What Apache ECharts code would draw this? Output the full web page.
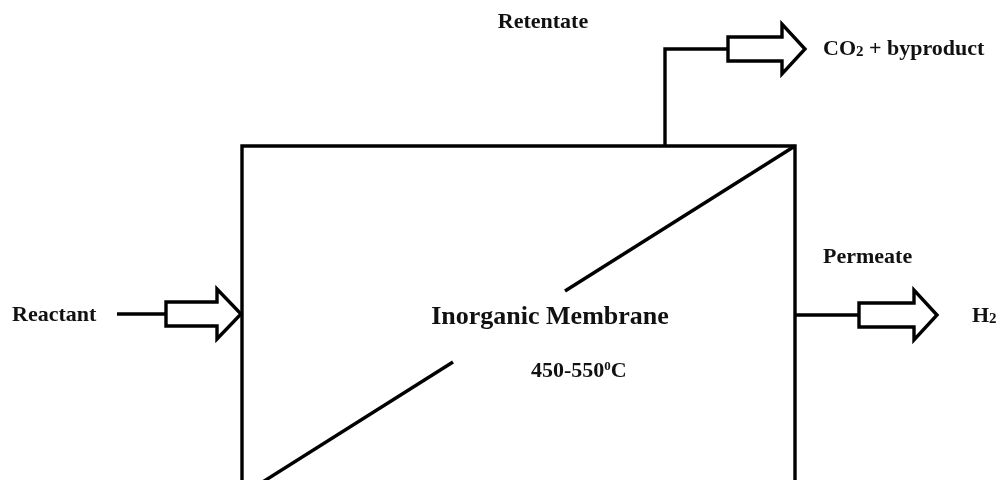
<!DOCTYPE html>
<html>
<head>
<meta charset="utf-8">
<script src="https://cdn.jsdelivr.net/npm/echarts@6/dist/echarts.min.js"></script>
<style>
  html, body { margin: 0; padding: 0; background: #ffffff; }
  #chart { width: 997px; height: 480px; }
</style>
</head>
<body>
<div id="chart"></div>
<script>
// ---- Diagram data (in diagram units of the hidden x/y axes) ----
const xExtent = [0, 997];
const yExtent = [0, 480];

// Reactor box outline (its bottom edge lies below the visible area)
const boxOutline = [[242, 505], [242, 146], [795, 146], [795, 505]];
// Membrane diagonal, broken around the label
const membraneUpper = [[795, 146], [565, 291]];
const membraneLower = [[453, 362], [242, 495]];
// Connecting pipes
const retentatePipe = [[665, 146], [665, 49], [728, 49]];
const reactantPipe = [[117, 314], [166, 314]];
const permeatePipe = [[795, 315], [859, 315]];
// Block arrows: [tailX, headBaseX, tipX, centreY]
const blockArrows = [
  [728, 782, 805, 49],
  [166, 217, 241, 314],
  [859, 914, 937, 315]
];
// Labels: [x, y, text, align]
const labels = [
  [543, 22, 'Retentate', 'center'],
  [823, 49, 'CO{sub|2} + byproduct', 'left'],
  [12, 315, 'Reactant', 'left'],
  [823, 257, 'Permeate', 'left'],
  [972, 316, 'H{sub|2}', 'left'],
  [531, 371, '450-550{sup|0}C', 'left']
];
const titleLabel = [[550, 317, 'Inorganic Membrane', 'center']];

// ---- Styles ----
const INK = '#000000';
const LINE_W = 3.4;
const BODY_HALF = 12;
const HEAD_HALF = 25;
const FONT = '"Liberation Serif", "Times New Roman", serif';

const chart = echarts.init(document.getElementById('chart'), null, { renderer: 'canvas' });

function lineSeries(data) {
  return {
    type: 'line',
    data: data,
    symbol: 'none',
    silent: true,
    clip: true,
    animation: false,
    lineStyle: { color: INK, width: LINE_W, cap: 'butt', join: 'miter' }
  };
}

function arrowRender(params, api) {
  const tail = api.value(0), base = api.value(1), tip = api.value(2), cy = api.value(3);
  const pTail = api.coord([tail, cy]);
  const pBase = api.coord([base, cy]);
  const pTip = api.coord([tip, cy]);
  const y = pTail[1];
  const pts = [
    [pTail[0], y - BODY_HALF],
    [pBase[0], y - BODY_HALF],
    [pBase[0], y - HEAD_HALF],
    [pTip[0], y],
    [pBase[0], y + HEAD_HALF],
    [pBase[0], y + BODY_HALF],
    [pTail[0], y + BODY_HALF]
  ];
  return {
    type: 'polygon',
    shape: { points: pts },
    style: { fill: '#ffffff', stroke: INK, lineWidth: LINE_W, lineJoin: 'miter' }
  };
}

function textRenderFactory(size) {
  return function (params, api) {
    const item = params.dataIndex;
    const p = api.coord([api.value(0), api.value(1)]);
    const src = this.__src[item];
    return {
      type: 'text',
      x: p[0],
      y: p[1],
      style: {
        text: src[2],
        align: src[3],
        verticalAlign: 'middle',
        fill: '#111111',
        fontFamily: FONT,
        fontWeight: 'bold',
        fontSize: size,
        rich: {
          sub: { fontSize: 15, fontWeight: 'bold', fontFamily: FONT, fill: '#111111', verticalAlign: 'bottom', lineHeight: 12 },
          sup: { fontSize: 13, fontWeight: 'bold', fontFamily: FONT, fill: '#111111', verticalAlign: 'top', lineHeight: 12 }
        }
      }
    };
  };
}

function textSeries(rows, size) {
  const ctx = { __src: rows };
  return {
    type: 'custom',
    silent: true,
    animation: false,
    clip: false,
    data: rows.map(r => [r[0], r[1]]),
    renderItem: textRenderFactory(size).bind(ctx)
  };
}

const option = {
  backgroundColor: '#ffffff',
  animation: false,
  grid: { left: 0, right: 0, top: 0, bottom: 0, containLabel: false },
  xAxis: { type: 'value', min: xExtent[0], max: xExtent[1], show: false },
  yAxis: { type: 'value', min: yExtent[0], max: yExtent[1], inverse: true, show: false },
  series: [
    lineSeries(boxOutline),
    lineSeries(membraneUpper),
    lineSeries(membraneLower),
    lineSeries(retentatePipe),
    lineSeries(reactantPipe),
    lineSeries(permeatePipe),
    {
      type: 'custom',
      silent: true,
      animation: false,
      data: blockArrows,
      renderItem: arrowRender
    },
    textSeries(labels, 22),
    textSeries(titleLabel, 26)
  ]
};

chart.setOption(option);
</script>
</body>
</html>
